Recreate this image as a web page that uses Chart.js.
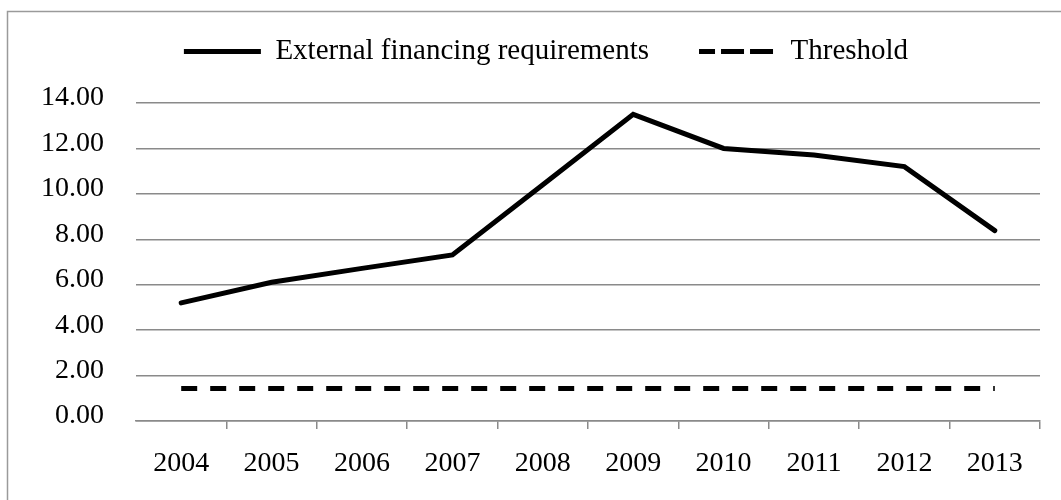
<!DOCTYPE html>
<html>
<head>
<meta charset="utf-8">
<script src="https://cdn.jsdelivr.net/npm/chart.js@4/dist/chart.umd.min.js"></script>
<style>
  html, body { margin: 0; padding: 0; background: #fff; }
  #wrap { width: 1061px; height: 500px; position: relative; }
</style>
</head>
<body>
<div id="wrap"><canvas id="c"></canvas></div>
<script>
// data
const years = ['2004', '2005', '2006', '2007', '2008', '2009', '2010', '2011', '2012', '2013'];
const financing = [5.2, 6.11, 6.72, 7.31, 10.4, 13.5, 12.0, 11.71, 11.2, 8.38];
const threshold = [1.43, 1.43, 1.43, 1.43, 1.43, 1.43, 1.43, 1.43, 1.43, 1.43];
const yTicks = [0, 2, 4, 6, 8, 10, 12, 14];

const FONT = "'Liberation Serif', 'Times New Roman', serif";
const GRID = '#8a8a8a';

// legend sits higher than chart.js would put it, so pin its box height,
// and centre it a bit left of the canvas middle like the original
const legendPlace = {
  id: 'legendPlace',
  beforeInit(chart) {
    const fit = chart.legend.fit;
    chart.legend.fit = function () {
      fit.call(this);
      this.height = 116;
    };
  },
  afterLayout(chart) {
    chart.legend.left = 52;
  }
};

// grey frame round the figure (only the left and top edges show)
const frame = {
  id: 'frame',
  afterDraw(chart) {
    const {ctx} = chart;
    ctx.save();
    ctx.strokeStyle = '#9a9a9a';
    ctx.lineWidth = 1.5;
    ctx.beginPath();
    ctx.moveTo(7.5, chart.height);
    ctx.lineTo(7.5, 11.5);
    ctx.lineTo(chart.width, 11.5);
    ctx.stroke();
    ctx.restore();
  }
};

const ctx = document.getElementById('c');
new Chart(ctx, {
  type: 'line',
  data: {
    labels: years,
    datasets: [
      {
        label: 'External financing requirements',
        data: financing,
        borderColor: '#000',
        backgroundColor: '#000',
        borderWidth: 5,
        borderCapStyle: 'round',
        borderJoinStyle: 'miter',
        pointRadius: 0,
        tension: 0
      },
      {
        label: 'Threshold',
        data: threshold,
        borderColor: '#000',
        backgroundColor: '#000',
        borderWidth: 5,
        borderDash: [16, 13],
        pointRadius: 0,
        tension: 0
      }
    ]
  },
  options: {
    responsive: true,
    maintainAspectRatio: false,
    animation: false,
    devicePixelRatio: 1,
    layout: {padding: {top: -13, left: 0, right: 21, bottom: 0}},
    plugins: {
      legend: {
        position: 'top',
        labels: {
          boxWidth: 77,
          boxHeight: 0,
          padding: 50,
          color: '#000',
          font: {family: FONT, size: 29}
        }
      },
      tooltip: {enabled: false}
    },
    scales: {
      x: {
        offset: true,
        grid: {
          drawOnChartArea: false,
          drawTicks: true,
          tickLength: 8,
          offset: true,
          lineWidth: 1.5,
          color: c => (c.index === 0 ? 'rgba(0,0,0,0)' : GRID)
        },
        border: {display: true, color: GRID, width: 1.5},
        ticks: {
          color: '#000',
          padding: 18,
          maxRotation: 0,
          font: {family: FONT, size: 28}
        },
        afterFit(scale) { scale.height = 79; }
      },
      y: {
        min: 0,
        max: 14,
        afterBuildTicks(scale) { scale.ticks = yTicks.map(v => ({value: v})); },
        grid: {drawTicks: false, color: GRID, lineWidth: 1.5},
        border: {display: false},
        ticks: {
          color: '#000',
          padding: 32,
          labelOffset: -5,
          font: {family: FONT, size: 28},
          callback: v => Number(v).toFixed(2)
        },
        afterFit(scale) { scale.width = 136; }
      }
    }
  },
  plugins: [legendPlace, frame]
});
</script>
</body>
</html>
